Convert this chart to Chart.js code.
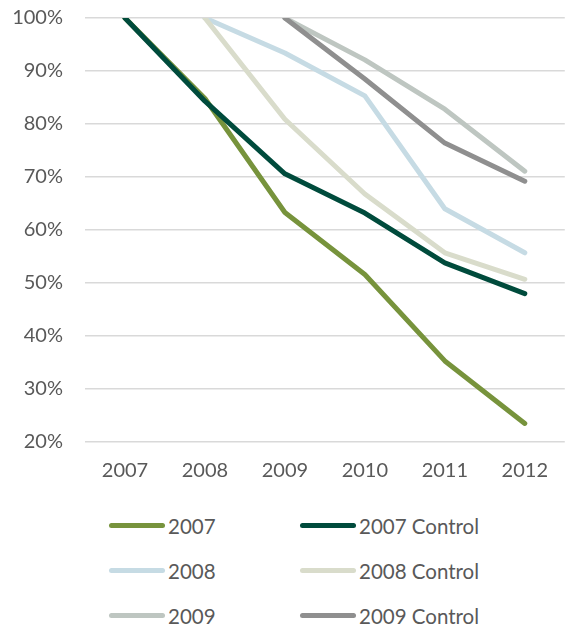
<!DOCTYPE html>
<html>
<head>
<meta charset="utf-8">
<style>
    body { margin: 0; background: #fff; font-family: Lato, "Open Sans", sans-serif; overflow: hidden; }
    #wrap { position: relative; width: 565px; height: 627px; overflow: hidden; }
    #chartBox { position: absolute; left: 0; top: -16px; width: 565px; height: 516px; }
    #legend { position: absolute; left: 109px; top: 503px; display: grid; grid-template-columns: 191px 200px; grid-auto-rows: 45px; }
    .item { display: flex; align-items: center; color: #595959; font-size: 20.5px; }
    .swatch { width: 56px; height: 5px; border-radius: 3px; margin-right: 3px; }
</style>
</head>
<body>
<div id="wrap">
    <div id="chartBox"><canvas id="cohortChart"></canvas></div>
    <div id="legend"></div>
</div>

<script src="https://cdn.jsdelivr.net/npm/chart.js"></script>
<script>
const years = ['2007', '2008', '2009', '2010', '2011', '2012'];
const yTicks = [20, 30, 40, 50, 60, 70, 80, 90, 100];

const s2007        = [100, 84.8, 63.3, 51.6, 35.3, 23.5];
const s2007Control = [100, 84.3, 70.6, 63.2, 53.8, 48.0];
const s2008        = [null, 100, 93.4, 85.3, 64.0, 55.7];
const s2008Control = [null, 100, 80.9, 66.8, 55.7, 50.7];
const s2009        = [null, null, 100, 92.1, 82.8, 71.1];
const s2009Control = [null, null, 100, 88.5, 76.4, 69.2];

const seriesNames = ['2007', '2007 Control', '2008', '2008 Control', '2009', '2009 Control'];
const seriesData = [s2007, s2007Control, s2008, s2008Control, s2009, s2009Control];
const seriesColors = ['#77933c', '#004b3c', '#c6dbe4', '#d9dccb', '#bec6c1', '#8f8f8f'];

const textColor = '#595959';
const fontFamily = 'Lato, "Open Sans", sans-serif';

document.addEventListener('DOMContentLoaded', function() {
    const datasets = seriesNames.map(function(name, i) {
        return {
            label: name,
            data: seriesData[i],
            borderColor: seriesColors[i],
            backgroundColor: seriesColors[i],
            borderWidth: 5,
            borderCapStyle: 'round',
            borderJoinStyle: 'round',
            pointRadius: 0,
            tension: 0,
            fill: false,
            // later series drawn on top, like the original
            order: seriesNames.length - i
        };
    });

    new Chart(document.getElementById('cohortChart'), {
        type: 'line',
        data: { labels: years, datasets: datasets },
        options: {
            responsive: true,
            maintainAspectRatio: false,
            animation: false,
            layout: { padding: { top: 7, left: 0, right: 0, bottom: 0 } },
            plugins: {
                legend: { display: false },
                tooltip: { enabled: false }
            },
            scales: {
                y: {
                    min: 20,
                    max: 100,
                    afterFit: function(scale) { scale.width = 85; },
                    afterBuildTicks: function(scale) {
                        scale.ticks = yTicks.map(function(v) { return { value: v }; });
                    },
                    ticks: {
                        padding: 22,
                        color: textColor,
                        font: { family: fontFamily, size: 20 },
                        callback: function(value) { return value + '%'; }
                    },
                    grid: { color: '#d9d9d9', lineWidth: 1.5, drawTicks: false },
                    border: { display: false }
                },
                x: {
                    offset: true,
                    ticks: {
                        padding: 17,
                        color: textColor,
                        font: { family: fontFamily, size: 20 },
                        maxRotation: 0
                    },
                    grid: { display: false, drawTicks: false, offset: true },
                    border: { display: false }
                }
            }
        }
    });

    // legend in two columns, as in the original
    const legend = document.getElementById('legend');
    seriesNames.forEach(function(name, i) {
        const item = document.createElement('div');
        item.className = 'item';
        const sw = document.createElement('span');
        sw.className = 'swatch';
        sw.style.background = seriesColors[i];
        item.appendChild(sw);
        item.appendChild(document.createTextNode(name));
        legend.appendChild(item);
    });
});
</script>
</body>
</html>
